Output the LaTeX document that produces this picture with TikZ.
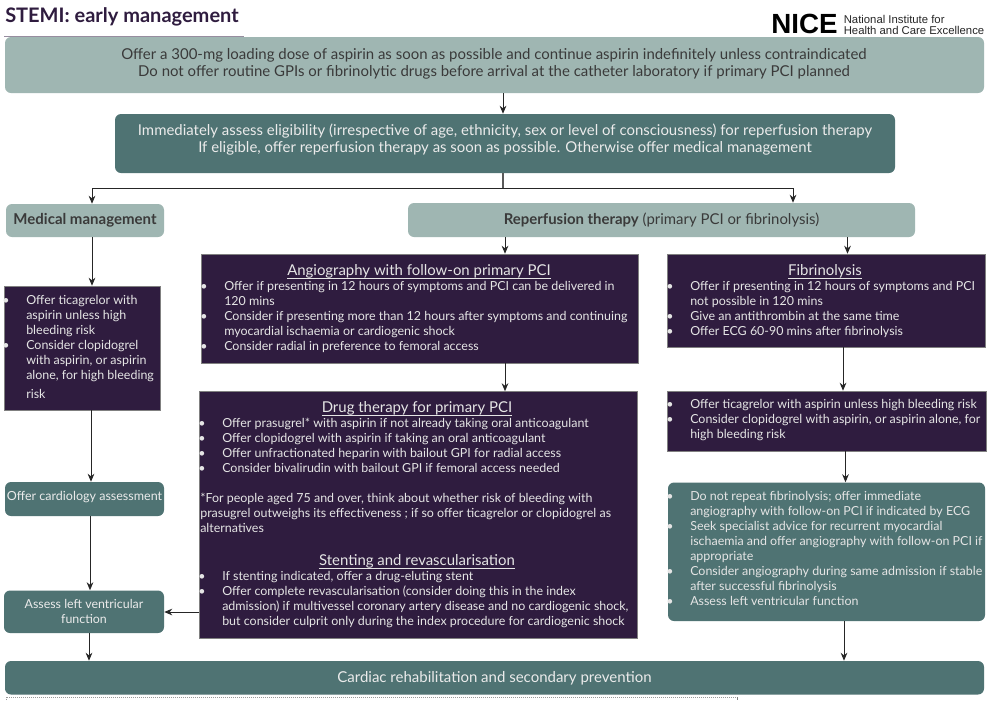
\documentclass[tikz,border=0pt]{standalone}
\usepackage{fontspec}
\setmainfont{Lato}
\newfontfamily\logofont{Liberation Sans}
\usetikzlibrary{arrows.meta}
\definecolor{lightteal}{HTML}{9FB6B2}
\definecolor{darkteal}{HTML}{4F7373}
\definecolor{plum}{HTML}{2F1C3F}
\definecolor{inkgrey}{HTML}{3A3A3A}
\newcommand{\bl}{\makebox[0pt][r]{\textbullet\hspace{12.5pt}}}
\newsavebox{\hdrbox}
\newcommand{\hdr}[1]{\sbox{\hdrbox}{#1}\rlap{\rule[-2.3pt]{\wd\hdrbox}{0.45pt}}\usebox{\hdrbox}}
% \bx[style]{name}{x1}{y1}{x2}{y2}{text}
\newcommand{\bx}[7][]{\node[#1,minimum width={(#5-#3)*0.75pt},minimum height={(#6-#4)*0.75pt}] (#2) at ({(#3+#5)/2},{(#4+#6)/2}) {#7};}
\tikzset{
  x=0.75pt,y=-0.75pt,
  lightbox/.style={draw=none,fill=lightteal,rounded corners=4.5pt,text=inkgrey,inner sep=0pt,align=center},
  tealbox/.style={draw=none,fill=darkteal,rounded corners=4.5pt,text=white!92!black,inner sep=0pt,align=center},
  plumbox/.style={draw=black!50,line width=0.4pt,fill=plum,inner sep=0pt},
  body/.style={inner sep=0pt,text=white!90!black,align=left,anchor=north west,font=\fontsize{9.34}{11.25}\selectfont},
  heading/.style={inner sep=0pt,anchor=base,text=white!90!black,font=\fontsize{11.2}{11}\selectfont},
  plain/.style={inner sep=0pt,align=center,text=white!92!black},
  arr/.style={draw=black!85,line width=0.7pt,-{Stealth[length=6pt,width=5pt]}},
  trunk/.style={draw=black!65,line width=0.9pt}
}
\begin{document}
\begin{tikzpicture}
\useasboundingbox (0,0) rectangle (991,700);
\fill[white] (0,0) rectangle (991,700);
% title and logo
\node[anchor=west,inner sep=0pt,text=plum,font=\fontsize{15}{16}\selectfont\bfseries] (title) at (5,17) {STEMI: early management};
\coordinate (ruleA) at (4,36); \coordinate (ruleB) at (244,36);
\draw[draw=plum!50,line width=0.6pt] (ruleA) -- (ruleB);
\node[anchor=west,inner sep=0pt,text=black,font=\logofont\bfseries\fontsize{20.8}{22}\selectfont] (nice) at (771,23.5) {NICE};
\node[anchor=west,inner sep=0pt,text=black!85,align=left,font=\logofont\fontsize{8.5}{8.2}\selectfont] (niceb) at (843.5,24.5) {National Institute for\\Health and Care Excellence};
% boxes
\bx[lightbox]{top}{5}{37}{984}{93}{}
\node[plain,text=inkgrey,font=\fontsize{11.23}{13.2}\selectfont] (topt) at (494,64) {Offer a 300-mg loading dose of aspirin as soon as possible and continue aspirin indefinitely unless contraindicated\\Do not offer routine GPIs or fibrinolytic drugs before arrival at the catheter laboratory if primary PCI planned};
\bx[tealbox]{assess}{115}{114}{895}{173}{}
\node[plain,font=\fontsize{11.2}{13.2}\selectfont] (assesst) at (505,139.5) {Immediately assess eligibility (irrespective of age, ethnicity, sex or level of consciousness) for reperfusion therapy\\If eligible, offer reperfusion therapy as soon as possible. Otherwise offer medical management};
\bx[lightbox,font=\fontsize{11.25}{13}\selectfont\bfseries]{medical}{6}{204}{164}{237}{Medical management}
\bx[lightbox,font=\fontsize{11.2}{12}\selectfont]{reperf}{408}{203}{915}{237}{\textbf{Reperfusion therapy} (primary PCI or fibrinolysis)}
\bx[plumbox]{angio}{201}{254}{638}{363}{}
\bx[plumbox]{fibrin}{667}{254}{985.5}{347}{}
\bx[plumbox]{medlist}{4}{286}{160.5}{410}{}
\bx[plumbox]{drug}{199}{391.5}{637}{638}{}
\bx[plumbox]{tica}{667}{391}{986}{451}{}
\bx[tealbox]{nofib}{668}{482.5}{985}{621}{}
\bx[tealbox]{cardio}{5}{482}{164}{516}{}
\node[plain,font=\fontsize{9.4}{11}\selectfont] (cardiot) at (84.5,497) {Offer cardiology assessment};
\bx[tealbox,font=\fontsize{9.3}{11.25}\selectfont]{lv}{4}{590.5}{164}{633}{Assess left ventricular\\function}
\bx[tealbox,font=\fontsize{11.25}{13}\selectfont]{rehab}{5}{661}{984}{694.5}{Cardiac rehabilitation and secondary prevention}
% texts
\node[heading] (angioh) at (419,275.5) {\hdr{Angiography with follow-on primary PCI}};
\node[body] (angiot) at (224,281.3) {\bl Offer if presenting in 12 hours of symptoms and PCI can be delivered in\\120 mins\\\bl Consider if presenting more than 12 hours after symptoms and continuing\\myocardial ischaemia or cardiogenic shock\\\bl Consider radial in preference to femoral access};
\node[heading] (fibrinh) at (825,275.5) {\hdr{Fibrinolysis}};
\node[body] (fibrint) at (690,281.3) {\bl Offer if presenting in 12 hours of symptoms and PCI\\not possible in 120 mins\\\bl Give an antithrombin at the same time\\\bl Offer ECG 60-90 mins after fibrinolysis};
\node[body] (medt) at (26,295.3) {\bl Offer ticagrelor with\\aspirin unless high\\bleeding risk\\\bl Consider clopidogrel\\with aspirin, or aspirin\\alone, for high bleeding\\[3pt]risk};
\node[heading] (drugh) at (417,412.5) {\hdr{Drug therapy for primary PCI}};
\node[body] (drugt) at (222,418.3) {\bl Offer prasugrel* with aspirin if not already taking oral anticoagulant\\\bl Offer clopidogrel with aspirin if taking an oral anticoagulant\\\bl Offer unfractionated heparin with bailout GPI for radial access\\\bl Consider bivalirudin with bailout GPI if femoral access needed};
\node[body] (note) at (200,493.3) {*For people aged 75 and over, think about whether risk of bleeding with\\prasugrel outweighs its effectiveness ; if so offer ticagrelor or clopidogrel as\\alternatives};
\node[heading] (stenth) at (417,565.5) {\hdr{Stenting and revascularisation}};
\node[body] (stentt) at (222,571.3) {\bl If stenting indicated, offer a drug-eluting stent\\\bl Offer complete revascularisation (consider doing this in the index\\admission) if multivessel coronary artery disease and no cardiogenic shock,\\but consider culprit only during the index procedure for cardiogenic shock};
\node[body] (ticat) at (690,399.3) {\bl Offer ticagrelor with aspirin unless high bleeding risk\\\bl Consider clopidogrel with aspirin, or aspirin alone, for\\high bleeding risk};
\node[body] (nofibt) at (690,491.3) {\bl Do not repeat fibrinolysis; offer immediate\\angiography with follow-on PCI if indicated by ECG\\\bl Seek specialist advice for recurrent myocardial\\ischaemia and offer angiography with follow-on PCI if\\appropriate\\\bl Consider angiography during same admission if stable\\after successful fibrinolysis\\\bl Assess left ventricular function};
% connector x positions
\coordinate (xa) at (503,0); \coordinate (xb) at (92,0); \coordinate (xc) at (793,0);
\coordinate (xd) at (505,0); \coordinate (xe) at (847.5,0); \coordinate (xf) at (91,0);
\coordinate (xg) at (90,0); \coordinate (xh) at (89,0); \coordinate (xi) at (843,0);
\coordinate (xj) at (845.5,0); \coordinate (xk) at (844,0);
\coordinate (ya) at (0,188); \coordinate (yb) at (0,612);
% connectors
\draw[arr] (top.south -| xa) -- (assess.north -| xa);
\draw[trunk] (assess.south -| xa) -- (xa |- ya);
\draw[trunk,arr] (xa |- ya) -- (xb |- ya) -- (medical.north -| xb);
\draw[trunk,arr] (xa |- ya) -- (xc |- ya) -- (reperf.north -| xc);
\draw[arr] (medical.south -| xb) -- (medlist.north -| xb);
\draw[arr] (medlist.south -| xf) -- (cardio.north -| xf);
\draw[arr] (cardio.south -| xg) -- (lv.north -| xg);
\draw[arr] (lv.south -| xh) -- (rehab.north -| xh);
\draw[arr] (reperf.south -| xd) -- (angio.north -| xd);
\draw[arr] (reperf.south -| xe) -- (fibrin.north -| xe);
\draw[arr] (angio.south -| xd) -- (drug.north -| xd);
\draw[arr] (drug.west |- yb) -- (lv.east |- yb);
\draw[arr] (fibrin.south -| xi) -- (tica.north -| xi);
\draw[arr] (tica.south -| xj) -- (nofib.north -| xj);
\draw[arr] (nofib.south -| xk) -- (rehab.north -| xk);
% cut-off strip at the lower edge
\coordinate (stripA) at (6,700); \coordinate (stripB) at (6,697); \coordinate (stripC) at (737,697); \coordinate (stripD) at (737,700);
\draw[black!40,line width=0.5pt,densely dotted] (stripA) -- (stripB) -- (stripC);
\draw[black!50,line width=0.5pt] (stripC) -- (stripD);
\end{tikzpicture}
\end{document}
